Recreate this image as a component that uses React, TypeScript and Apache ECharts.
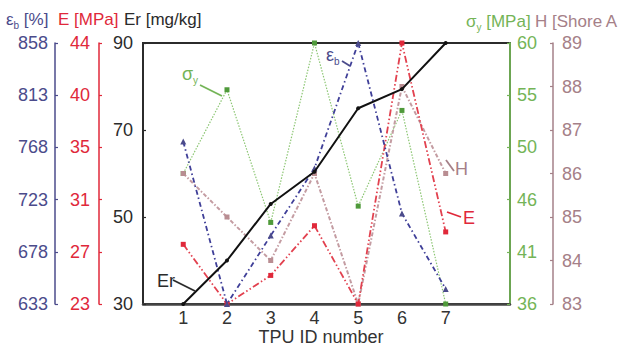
import React, { useEffect, useRef } from "react";
import * as echarts from "echarts";

const tpuIds = [1, 2, 3, 4, 5, 6, 7];
const erValues = [30, 40, 53, 60.4, 75, 79.4, 90];
const ebValues = [773, 633, 692, 750, 858, 711, 646];
const eValues = [27.8, 23, 25.3, 29.3, 23, 44, 28.8];
const syValues = [48, 55.7, 43.5, 60, 45, 53.8, 36];
const hValues = [86, 85, 84, 86, 83, 88, 86];

const xTicks = [1, 2, 3, 4, 5, 6, 7];
const erTicks = [30, 50, 70, 90];
const ebTicks = [633, 678, 723, 768, 813, 858];
const eTickLabels = ["23", "27", "31", "35", "40", "44"];
const syTickLabels = ["36", "41", "46", "50", "55", "60"];
const hTicks = [83, 84, 85, 86, 87, 88, 89];

const E_MIN = 23, E_MAX = 44;
const SY_MIN = 36, SY_MAX = 60;

const BLUE = "#4b4b8b";
const RED = "#e0283a";
const BLACK = "#2b2b2b";
const GREEN = "#74b457";
const MAUVE = "#a58088";
const FONT = "Liberation Sans";

const evenTicks = (min: number, max: number, n: number) =>
  Array.from({ length: n }, (_, i) => min + (i * (max - min)) / (n - 1));

const eTicks = evenTicks(E_MIN, E_MAX, eTickLabels.length);
const syTicks = evenTicks(SY_MIN, SY_MAX, syTickLabels.length);

const labelFor = (ticks: number[], labels: string[]) => (v: number) => {
  let best = 0;
  ticks.forEach((t, i) => {
    if (Math.abs(t - v) < Math.abs(ticks[best] - v)) best = i;
  });
  return labels[best];
};

function yAxisDef(opts: {
  position: "left" | "right";
  offset: number;
  min: number;
  max: number;
  ticks: number[];
  color: string;
  margin: number;
  width: number;
  formatter?: (v: number) => string;
}) {
  return {
    type: "value",
    position: opts.position,
    offset: opts.offset,
    min: opts.min,
    max: opts.max,
    axisLine: { show: true, onZero: false, lineStyle: { color: opts.color, width: opts.width } },
    axisTick: { show: true, inside: true, length: 3, customValues: opts.ticks, lineStyle: { color: opts.color, width: 1.2 } },
    axisLabel: {
      show: true,
      customValues: opts.ticks,
      margin: opts.margin,
      color: opts.color,
      fontFamily: FONT,
      fontSize: 18,
      formatter: opts.formatter ?? ((v: number) => String(Math.round(v))),
    },
    splitLine: { show: false },
  };
}

export default function App() {
  const ref = useRef<HTMLDivElement>(null);
  useEffect(() => {
    if (!ref.current) return;
    const chart = echarts.init(ref.current, undefined, { renderer: "svg" });
    const pts = (vals: number[]) => tpuIds.map((id, i) => [id, vals[i]]);
    const titleText = (x: number, y: number, rich: string, color: string, size = 17) => ({
      type: "text",
      x,
      y,
      style: {
        text: rich,
        fill: color,
        font: `${size}px "${FONT}"`,
        rich: {
          a: { fontSize: size, fontFamily: FONT, fill: color, color, lineHeight: 22, verticalAlign: "middle" },
          s: { fontSize: 10, fontFamily: FONT, fill: color, color, lineHeight: 22, verticalAlign: "bottom" },
        },
      },
    });
    const leader = (x1: number, y1: number, x2: number, y2: number, color: string) => ({
      type: "line",
      shape: { x1, y1, x2, y2 },
      style: { stroke: color, lineWidth: 1.8 },
      z: 10,
    });
    chart.setOption({
      animation: false,
      backgroundColor: "#ffffff",
      grid: {
        left: 143,
        right: 109,
        top: 43,
        bottom: 43,
        outerBoundsMode: "none",
        containLabel: false,
        show: true,
        borderColor: BLACK,
        borderWidth: 2,
        backgroundColor: "transparent",
      },
      xAxis: {
        type: "value",
        min: 0.08,
        max: 8.47,
        axisLine: { show: true, onZero: false, lineStyle: { color: "#444", width: 2.5 } },
        axisTick: { show: false },
        axisLabel: {
          customValues: xTicks,
          margin: 7,
          color: "#333",
          fontFamily: FONT,
          fontSize: 18,
          lineHeight: 14,
        },
        splitLine: { show: false },
      },
      yAxis: [
        yAxisDef({ position: "left", offset: 0, min: 30, max: 90, ticks: erTicks, color: BLACK, margin: 10, width: 2 }),
        yAxisDef({ position: "left", offset: 44, min: E_MIN, max: E_MAX, ticks: eTicks, color: RED, margin: 9, width: 1.5, formatter: labelFor(eTicks, eTickLabels) }),
        yAxisDef({ position: "left", offset: 88, min: 633, max: 858, ticks: ebTicks, color: BLUE, margin: 7, width: 1.5 }),
        yAxisDef({ position: "right", offset: 0, min: SY_MIN, max: SY_MAX, ticks: syTicks, color: GREEN, margin: 7, width: 1.8, formatter: labelFor(syTicks, syTickLabels) }),
        yAxisDef({ position: "right", offset: 43, min: 83, max: 89, ticks: hTicks, color: MAUVE, margin: 9, width: 1.5 }),
      ],
      series: [
        {
          name: "sigma_y",
          type: "line",
          yAxisIndex: 3,
          data: pts(syValues),
          symbol: "rect",
          symbolSize: 5,
          itemStyle: { color: "#4f9a3a" },
          lineStyle: { color: "#8cc673", width: 1.2, type: [1.5, 1.5] },
          z: 2,
        },
        {
          name: "H",
          type: "line",
          yAxisIndex: 4,
          data: pts(hValues),
          symbol: "rect",
          symbolSize: 5,
          itemStyle: { color: "#b98d92" },
          lineStyle: { color: "#c49ca2", width: 2, type: [4, 2, 1.5, 2] },
          z: 3,
        },
        {
          name: "E",
          type: "line",
          yAxisIndex: 1,
          data: pts(eValues),
          symbol: "rect",
          symbolSize: 5,
          itemStyle: { color: RED },
          lineStyle: { color: "#e2414f", width: 1.8, type: [7, 2.5, 1.5, 2.5, 1.5, 2.5] },
          z: 4,
        },
        {
          name: "eps_b",
          type: "line",
          yAxisIndex: 2,
          data: pts(ebValues),
          symbol: "triangle",
          symbolSize: 6,
          itemStyle: { color: BLUE },
          lineStyle: { color: "#3f3f98", width: 1.8, type: [5, 3, 1.5, 3] },
          z: 5,
        },
        {
          name: "Er",
          type: "line",
          yAxisIndex: 0,
          data: pts(erValues),
          symbol: "circle",
          symbolSize: 4,
          itemStyle: { color: "#111" },
          lineStyle: { color: "#111", width: 2 },
          z: 6,
        },
      ],
      graphic: [
        titleText(6, 8, "{a|ε}{s|b}{a| [%]}", BLUE),
        titleText(58, 8, "{a|E [MPa]}", RED),
        titleText(124, 8, "{a|Er [mg/kg]}", BLACK),
        titleText(466, 10, "{a|σ}{s|y}{a| [MPa]}", GREEN),
        titleText(535, 10, "{a|H [Shore A}", MAUVE),
        titleText(182, 63, "{a|σ}{s|y}", GREEN, 18),
        leader(200, 85, 222, 96, GREEN),
        titleText(326, 44, "{a|ε}{s|b}", BLUE, 18),
        leader(342, 61, 350, 66, BLUE),
        titleText(455, 158, "{a|H}", MAUVE, 18),
        leader(446, 160, 454, 171, MAUVE),
        titleText(463, 207, "{a|E}", RED, 18),
        leader(447, 212, 461, 217, RED),
        titleText(157, 270, "{a|Er}", BLACK, 18),
        leader(173, 280, 195, 291, BLACK),
        {
          type: "text",
          x: 321,
          y: 337,
          style: {
            text: "TPU ID number",
            fill: "#333",
            font: `18px "${FONT}"`,
            lineHeight: 16,
            align: "center",
            verticalAlign: "middle",
          },
        },
      ],
    });
    return () => chart.dispose();
  }, []);
  return (
    <div
      ref={ref}
      style={{ position: "fixed", left: 0, top: 0, width: 619, height: 347, background: "#fff" }}
    />
  );
}
